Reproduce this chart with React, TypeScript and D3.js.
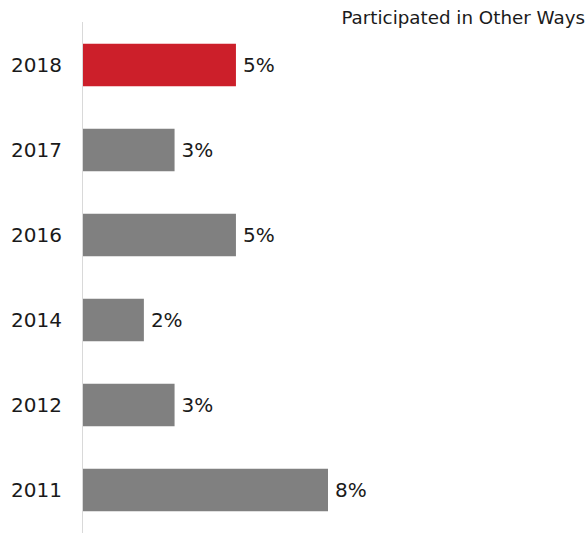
import React from 'react';
import * as d3 from 'd3';

const years = ['2018', '2017', '2016', '2014', '2012', '2011'];
const values = [5, 3, 5, 2, 3, 8];
const title = 'Participated in Other Ways';

const W = 588;
const H = 533;
const font = '"DejaVu Sans", sans-serif';

export default function App() {
  // шкалы
  const y = d3
    .scaleBand<string>()
    .domain(years)
    .range([22.5, 532.5])
    .paddingInner(0.5)
    .paddingOuter(0.25);

  const x = d3.scaleLinear().domain([0, 8]).range([82.5, 328]);

  return (
    <svg
      width={W}
      height={H}
      style={{ position: 'fixed', top: 0, left: 0, display: 'block', background: '#fff' }}
    >
      <text x={585} y={24} textAnchor="end" fontFamily={font} fontSize={18.3} fill="#1a1a1a">
        {title}
      </text>

      {/* ось Y */}
      <line x1={x(0)} x2={x(0)} y1={22} y2={H} stroke="#d9d9d9" strokeWidth={1} />

      {years.map((yr, i) => {
        const cy = (y(yr) ?? 0) + y.bandwidth() / 2;
        return (
          <g key={yr}>
            <rect
              x={x(0) + 0.5}
              y={y(yr)}
              width={x(values[i]) - x(0) - 0.5}
              height={y.bandwidth()}
              fill={i === 0 ? '#cc1f2a' : '#808080'}
            />
            <text
              x={62}
              y={cy}
              dy="0.36em"
              textAnchor="end"
              fontFamily={font}
              fontSize={20}
              fill="#1a1a1a"
            >
              {yr}
            </text>
            <text
              x={x(values[i]) + 7}
              y={cy}
              dy="0.36em"
              fontFamily={font}
              fontSize={20}
              fill="#1a1a1a"
            >
              {values[i]}%
            </text>
          </g>
        );
      })}
    </svg>
  );
}
